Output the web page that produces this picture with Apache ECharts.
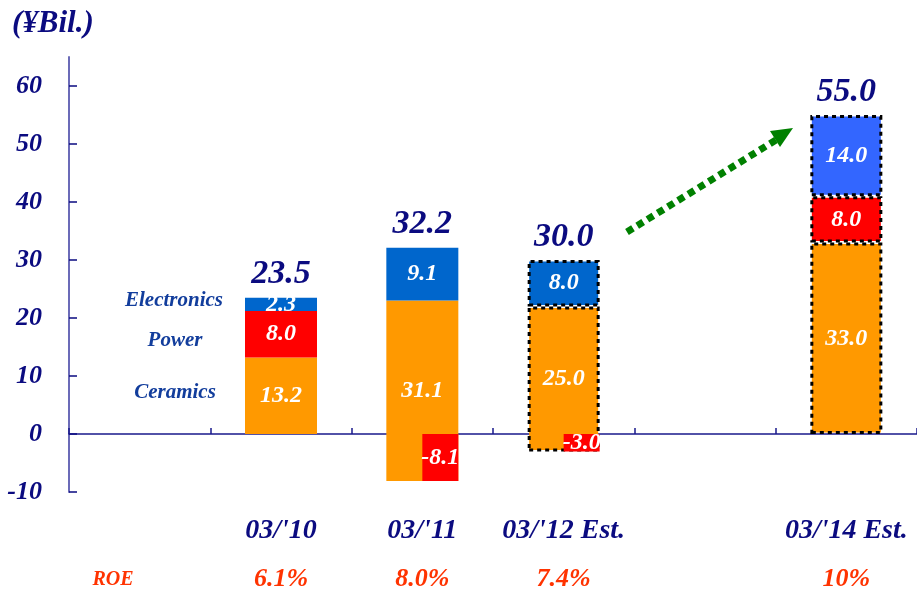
<!DOCTYPE html>
<html>
<head>
<meta charset="utf-8">
<script src="https://cdn.jsdelivr.net/npm/echarts@6/dist/echarts.min.js"></script>
<style>
  html, body { margin: 0; padding: 0; background: #ffffff; }
  #chart { width: 917px; height: 595px; }
</style>
</head>
<body>
<div id="chart"></div>
<script>
// Fiscal years (blank slots keep the spacing of the original layout)
const categories = ['', "03/'10", "03/'11", "03/'12 Est.", ' ', "03/'14 Est."];
// Operating income by segment, ¥ billion
const ceramics    = [null, 13.2, 31.1, 25.0, null, 33.0];
const power       = [null,  8.0, -8.1, -3.0, null,  8.0];
const electronics = [null,  2.3,  9.1,  8.0, null, 14.0];
const totals      = [null, 23.5, 32.2, 30.0, null, 55.0];
// Return on equity per year
const roe = ['', '6.1%', '8.0%', '7.4%', '', '10%'];
// Value axis ticks
const yTickValues = [-10, 0, 10, 20, 30, 40, 50, 60];

const SERIF = '"Liberation Serif", "Times New Roman", serif';
const NAVY = '#0B0B80';
const ORANGE = '#FF9900';
const RED = '#FF0000';
const BLUE = '#0066CC';
const BLUE_TARGET = '#3366FF';

// Estimates get a dotted outline; the final (target) year gets a brighter blue
const isEst = i => /Est\./.test(categories[i]);
const isTarget = i => i === categories.length - 1;

// Stacked items: empty slots become zero-height, unstyled bars so the
// running stack total never turns into NaN.
function segmentItems(values, color, targetColor) {
  return values.map((v, i) => {
    if (v == null) {
      return { value: 0, itemStyle: { color: 'rgba(0,0,0,0)', borderWidth: 0 }, label: { show: false } };
    }
    return {
      value: v,
      itemStyle: {
        color: isTarget(i) && targetColor ? targetColor : color,
        borderColor: '#000000',
        borderWidth: isEst(i) ? 3 : 0,
        borderType: [4, 4]
      }
    };
  });
}

const segLabel = {
  show: true,
  position: 'inside',
  color: '#ffffff',
  fontFamily: SERIF,
  fontStyle: 'italic',
  fontWeight: 'bold',
  fontSize: 24,
  formatter: p => Number(p.value).toFixed(1)
};

const powerPos = power.map(v => (v != null && v > 0 ? v : null));
const powerNeg = power.map(v => (v != null && v < 0 ? v : null));
// Negative power results push the ceramics bar down below zero
const offsetBase = power.map(v => (v != null && v < 0 ? v : 0));

const chart = echarts.init(document.getElementById('chart'));

chart.setOption({
  animation: false,
  backgroundColor: '#ffffff',
  grid: { left: 69, right: 0, top: 57, bottom: 103, outerBoundsMode: 'none', containLabel: false },
  xAxis: [
    {
      type: 'category',
      data: categories,
      position: 'bottom',
      axisLine: { show: false, onZero: false },
      axisTick: { show: false },
      splitLine: { show: false },
      axisLabel: {
        interval: 0,
        margin: 15,
        formatter: (v, i) => (v.trim() === '' ? '' : '{c|' + v + '}\n{r|' + roe[i] + '}'),
        rich: {
          c: { fontFamily: SERIF, fontStyle: 'italic', fontWeight: 'bold', fontSize: 28, color: NAVY, lineHeight: 48 },
          r: { fontFamily: SERIF, fontStyle: 'italic', fontWeight: 'bold', fontSize: 26, color: '#FF3300', lineHeight: 48 }
        }
      }
    },
    {
      type: 'category',
      data: categories,
      position: 'bottom',
      axisLine: { show: true, onZero: true, lineStyle: { color: '#1A1A8C', width: 1.5 } },
      axisTick: { show: true, inside: true, length: 6, interval: 0, lineStyle: { color: '#1A1A8C', width: 1.5 } },
      axisLabel: { show: false },
      splitLine: { show: false }
    }
  ],
  yAxis: {
    type: 'value',
    min: -10,
    max: 65,
    axisLine: { show: true, lineStyle: { color: '#6B6BB8', width: 2 } },
    axisTick: { show: true, inside: true, length: 8, customValues: yTickValues, lineStyle: { color: NAVY, width: 1.5 } },
    splitLine: { show: false },
    axisLabel: {
      customValues: yTickValues,
      margin: 27,
      fontFamily: SERIF,
      fontStyle: 'italic',
      fontWeight: 'bold',
      fontSize: 26,
      color: NAVY
    }
  },
  series: [
    {
      name: 'offset',
      type: 'bar',
      xAxisIndex: 0,
      stack: 'seg',
      stackStrategy: 'all',
      barWidth: 72,
      data: offsetBase,
      itemStyle: { color: 'rgba(0,0,0,0)' },
      label: { show: false },
      silent: true
    },
    {
      name: 'Ceramics',
      type: 'bar',
      xAxisIndex: 0,
      stack: 'seg',
      stackStrategy: 'all',
      barWidth: 72,
      data: segmentItems(ceramics, ORANGE, null),
      label: segLabel
    },
    {
      name: 'Power',
      type: 'bar',
      xAxisIndex: 0,
      stack: 'seg',
      stackStrategy: 'all',
      barWidth: 72,
      data: segmentItems(powerPos, RED, null),
      label: segLabel
    },
    {
      name: 'Electronics',
      type: 'bar',
      xAxisIndex: 0,
      stack: 'seg',
      stackStrategy: 'all',
      barWidth: 72,
      data: segmentItems(electronics, BLUE, BLUE_TARGET),
      label: segLabel
    },
    {
      // empty slot so the negative power bar takes the right half
      name: 'slot',
      type: 'bar',
      xAxisIndex: 1,
      barWidth: 36,
      barGap: 0,
      data: categories.map(() => null),
      silent: true
    },
    {
      name: 'Power (loss)',
      type: 'bar',
      xAxisIndex: 1,
      barWidth: 36,
      barGap: 0,
      data: powerNeg.map(v => (v == null ? null : { value: v, itemStyle: { color: RED } })),
      label: segLabel
    },
    {
      name: 'Total',
      type: 'scatter',
      xAxisIndex: 0,
      symbolSize: 0,
      itemStyle: { color: 'rgba(0,0,0,0)', opacity: 1 },
      data: totals,
      label: {
        show: true,
        position: 'top',
        distance: 6,
        opacity: 1,
        formatter: p => Number(p.value).toFixed(1),
        fontFamily: SERIF,
        fontStyle: 'italic',
        fontWeight: 'bold',
        fontSize: 34,
        color: NAVY
      },
      z: 5
    }
  ],
  graphic: [
    {
      type: 'text', left: 12, top: 8,
      style: { text: '(¥Bil.)', font: 'italic bold 31px ' + SERIF, fill: NAVY }
    },
    {
      type: 'text', x: 174, y: 301,
      style: { text: 'Electronics', font: 'italic bold 21px ' + SERIF, fill: '#123D9C', align: 'center', verticalAlign: 'middle' }
    },
    {
      type: 'text', x: 175, y: 341,
      style: { text: 'Power', font: 'italic bold 21px ' + SERIF, fill: '#123D9C', align: 'center', verticalAlign: 'middle' }
    },
    {
      type: 'text', x: 175, y: 393,
      style: { text: 'Ceramics', font: 'italic bold 21px ' + SERIF, fill: '#123D9C', align: 'center', verticalAlign: 'middle' }
    },
    {
      type: 'text', x: 113, y: 580,
      style: { text: 'ROE', font: 'italic bold 20px ' + SERIF, fill: '#FF3300', align: 'center', verticalAlign: 'middle' }
    },
    {
      type: 'line',
      shape: { x1: 627, y1: 232, x2: 776, y2: 140 },
      style: { stroke: '#008000', lineWidth: 7, lineDash: [7, 5] }
    },
    {
      type: 'polygon',
      shape: { points: [[793, 128], [770, 131], [780, 147]] },
      style: { fill: '#008000' }
    }
  ]
});
</script>
</body>
</html>
